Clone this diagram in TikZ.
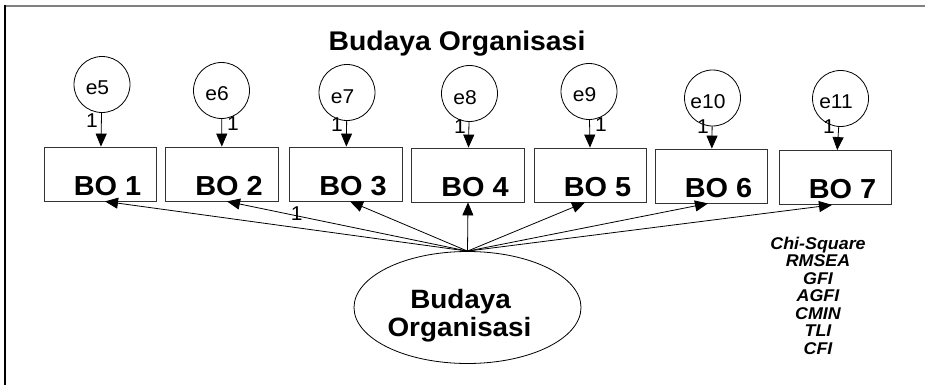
\documentclass[tikz,border=0pt]{standalone}
\usepackage{fontspec}
\setmainfont{Liberation Sans}[FakeStretch=1.05]
\usetikzlibrary{arrows.meta,shapes.geometric}

\begin{document}
\begin{tikzpicture}[
  x=1pt, y=-1pt,
  indicator/.style={draw=black!80, line width=0.8pt, minimum width=112.5pt,
    minimum height=54pt, inner sep=0pt},
  indtext/.style={anchor=base, inner sep=0pt,
    font=\fontsize{27.5}{27.5}\selectfont\bfseries},
  errcirc/.style={circle, draw, line width=0.8pt, minimum size=56pt, inner sep=0pt},
  errtext/.style={anchor=base, inner sep=0pt, font=\fontsize{20}{20}\selectfont},
  one/.style={inner sep=0pt, font=\fontsize{20}{20}\selectfont},
  patharrow/.style={draw, line width=0.8pt, -{Triangle[length=13pt,width=11pt]}},
  bigtext/.style={anchor=base, inner sep=0pt, font=\fontsize{27}{27}\selectfont\bfseries},
]
\useasboundingbox (0,0) rectangle (925,385);

% frame
\draw[draw=black!50, line width=2pt] (5,6.5) -- (925,6.5);
\draw[line width=1.5pt] (5,5.5) -- (5,385);

% title
\node[bigtext] (title) at (457,51) {Budaya Organisasi};

% observed indicators
\foreach \i/\x/\y in {1/100.5/174, 2/222/174, 3/346/174, 4/468/175,
                      5/590.5/175, 6/711.5/176, 7/835.5/177.5} {
  \node[indicator] (bo\i) at (\x,\y) {};
  \node[indtext] (bo\i t) at ([xshift=7pt,yshift=-21pt]bo\i.center) {BO \i};
}

% error terms
\foreach \n/\i/\x/\y in {5/1/102/84.5, 6/2/221.5/90.5, 7/3/347/92.5, 8/4/469.5/93.5,
                         9/5/589/91.5, 10/6/712.5/98, 11/7/840.5/98.5} {
  \node[errcirc] (e\n) at (\x,\y) {};
  \node[errtext] (e\n t) at ([xshift=-4.5pt,yshift=-10.5pt]e\n.center) {e\n};
  \draw[patharrow] (e\n) -- (bo\i);
}

% fixed weights of the error paths
\node[one] (w1) at (92,121) {1};
\node[one] (w2) at (233,124) {1};
\node[one] (w3) at (337,125) {1};
\node[one] (w4) at (460,127) {1};
\node[one] (w5) at (601,125) {1};
\node[one] (w6) at (703,127) {1};
\node[one] (w7) at (829,127) {1};

% latent construct
\node[ellipse, draw, line width=0.8pt, minimum width=227pt, minimum height=112pt,
      inner sep=0pt] (lv) at (467.5,307.5) {};
\node[bigtext, font=\fontsize{26.5}{26.5}\selectfont\bfseries] (lvt1) at (460.5,308) {Budaya};
\node[bigtext, font=\fontsize{26.5}{26.5}\selectfont\bfseries] (lvt2) at (459.5,336) {Organisasi};

% loadings
\draw[patharrow] (lv.north) -- ([xshift=4.5pt]bo1.south);
\draw[patharrow] (lv.north) -- node[one, pos=0.71, yshift=2pt] (l2) {1} ([xshift=5pt]bo2.south);
\draw[patharrow] (lv.north) -- ([xshift=4pt]bo3.south);
\draw[patharrow] (lv.north) -- (bo4.south);
\draw[patharrow] (lv.north) -- ([xshift=-5.5pt]bo5.south);
\draw[patharrow] (lv.north) -- ([xshift=-3.5pt]bo6.south);
\draw[patharrow] (lv.north) -- ([xshift=-3.5pt]bo7.south);

% fit indices
\node[align=center, inner sep=0pt,
      font=\fontsize{17}{17.5}\selectfont\bfseries\itshape] (fit) at (818,295.5)
  {Chi-Square\\RMSEA\\GFI\\AGFI\\CMIN\\TLI\\CFI};
\end{tikzpicture}
\end{document}
